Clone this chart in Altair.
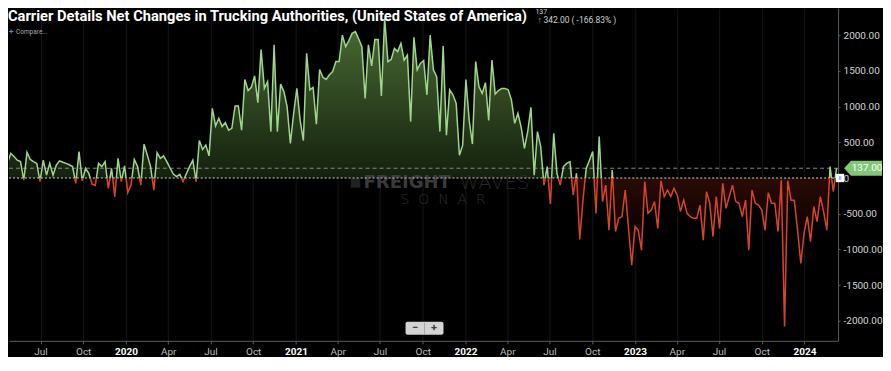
import altair as alt
import pandas as pd

# ---- data (weekly net changes) ----
start_date = "2019-04-07"
values_2019_2020 = [290, 250, 205, 345, 300, 250, 230, -30, 360, 260, 230, 205, -50, 250, 40, 205,
                    40, 180, 240, 220, 205, 185, 160, -75, 370, -40, 135, 65, -85, -105, 205, 160,
                    230, -145, 135, -260, 275, -50, 170, -205, -100, 260, 160, -100, 475, 320, 160,
                    -170, 355, 275, 310, 230, 140, 55, 20, 50, -50, 60, 160, 250, -50, 525, 400, 460, 310]
values_2020_2021 = [975, 730, 835, 720, 775, 670, 695, 1010, 1010, 670, 1380, 1225, 1270, 1430, 1055,
                    1800, 1255, 1350, 650, 1865, 650, 1315, 1210, 1000, 485, 900, 1255, 810, 525, 1745,
                    1235, 1270, 755, 1520, 1410, 1380, 1445, 1490, 1630, 1630, 2000, 1840, 1925, 2025,
                    2050, 1950, 1840, 1115, 1865, 1570, 1940, 1940, 1150, 2235, 1630, 1660, 1815, 1770,
                    1885, 1650, 1720, 790, 1970]
values_2021_2022 = [1515, 1605, 1645, 1165, 2000, 1515, 1420, 650, 1850, 600, 1235, 1165, 1045, 320, 460,
                    1380, 810, 475, 1630, 1280, 1185, 1335, 805, 1650, 1175, 1225, 1255, 1255, 1235, 1095,
                    765, 905, 710, 415, 650, 990, 40, 650, 440, -100, 160, -365, 625, 65, -100, 160, 205,
                    230, -240, 65, -860, -310, 135, 250, 370, -495, 580]
values_2022_2024 = [-330, -100, -730, 110, -750, -565, -540, -170, -700, -1220, -680, -730, -1010, -50,
                    -495, -450, -330, -705, -40, -260, -170, -260, -145, -240, -470, -310, -495, -540,
                    -565, -565, -380, -870, -190, -355, -820, -260, -705, -75, -425, -260, -100, -330,
                    -355, -540, -310, -1010, -170, -355, -380, -450, -730, -205, -355, -355, -750, -30,
                    -2080, -40, -310, -310, -730, -1195, -775, -540, -890, -400, -610, -260, -470, -730,
                    160, -190, 137]
y_ticks = [-2000, -1500, -1000, -500, 0, 500, 1000, 1500, 2000]
last_value = 137

values = values_2019_2020 + values_2020_2021 + values_2021_2022 + values_2022_2024
dates = pd.date_range(start_date, periods=len(values), freq="7D")
df = pd.DataFrame({"date": dates, "value": values})

W, H = 830, 333
GREEN = "#9fd68c"
RED = "#d4452a"
vmax, vmin = max(values), min(values)
f = vmax / (vmax - vmin)

line_grad = alt.Gradient(gradient="linear", x1=0, x2=0, y1=0, y2=1, stops=[
    alt.GradientStop(color=GREEN, offset=0), alt.GradientStop(color=GREEN, offset=f),
    alt.GradientStop(color=RED, offset=f), alt.GradientStop(color=RED, offset=1)])
fill_grad = alt.Gradient(gradient="linear", x1=0, x2=0, y1=0, y2=1, stops=[
    alt.GradientStop(color="#4a6c35", offset=0), alt.GradientStop(color="#14200d", offset=f),
    alt.GradientStop(color="#2a0b05", offset=f), alt.GradientStop(color="#140401", offset=f + 0.13),
    alt.GradientStop(color="#000000", offset=1)])

x_scale = alt.Scale(domain=[alt.DateTime(year=2019, month=4, date=24, hours=5),
                            alt.DateTime(year=2024, month=3, date=13, hours=5)])
y_scale = alt.Scale(domain=[-2280, 2378], nice=False, zero=False)

x_enc = alt.X("date:T", scale=x_scale, axis=alt.Axis(
    title=None, tickCount={"interval": "month", "step": 3},
    labelExpr="month(datum.value) == 0 ? timeFormat(datum.value, '%Y') : timeFormat(datum.value, '%b')",
    grid=True, gridColor="#161616", domainColor="#5c5c5c", tickColor="#5c5c5c", tickSize=3,
    labelPadding=3, labelFontSize=10, labelFont="Roboto",
    labelColor={"condition": {"test": "month(datum.value) == 0", "value": "#ffffff"}, "value": "#bdbdbd"},
    labelFontWeight={"condition": {"test": "month(datum.value) == 0", "value": "bold"}, "value": "normal"}))
y_enc = alt.Y("value:Q", scale=y_scale, axis=alt.Axis(
    orient="right", title=None, values=y_ticks, grid=False,
    labelExpr="datum.value == 0 ? '0' : (datum.value < 0 ? '-' : '') + format(abs(datum.value), '.2f')",
    domainColor="#5c5c5c", tickColor="#5c5c5c", tickSize=2, labelPadding=3,
    labelFontSize=10, labelFont="Roboto", labelColor="#d6d6d6"))

base = alt.Chart(df)
area = base.mark_area(fill=fill_grad, clip=True).encode(x=x_enc, y=y_enc, y2=alt.datum(0))
line = base.mark_line(stroke=line_grad, strokeWidth=1.5, clip=True).encode(x="date:T", y="value:Q")

one = pd.DataFrame({"k": [0]})
def txt(text, x, y, size, color, weight="normal", font="Roboto", align="left", baseline="middle"):
    return alt.Chart(one).mark_text(text=text, fontSize=size, color=color, fontWeight=weight,
                                    font=font, align=align, baseline=baseline).encode(
        x=alt.value(x), y=alt.value(y))

watermark = [
    alt.Chart(one).mark_point(shape="square", filled=True, color="#2e2e2e", size=90).encode(
        x=alt.value(347), y=alt.value(175)),
    txt("FREIGHT", 355, 175, 18, "#3a3a3a", weight="bold", font="DejaVu Sans"),
    txt("WAVES", 451, 175, 20, "#262626", weight=200, font="DejaVu Sans"),
    txt("S\u2007O\u2007N\u2007A\u2007R", 392, 192, 14, "#303030", weight=200, font="DejaVu Sans"),
]

zero_rule = alt.Chart(one).mark_rule(color="#d0d0d0", strokeDash=[2, 2], strokeWidth=1).encode(y=alt.datum(0))
last_rule = alt.Chart(one).mark_rule(color="#8a8a8a", strokeDash=[4, 3], strokeWidth=1).encode(y=alt.datum(last_value))

texts = [
    txt("Carrier Details Net Changes in Trucking Authorities, (United States of America)", -1, 9, 14.7,
        "#ffffff", weight="bold"),
    txt("137", 527, 0, 7, "#cfcfcf", baseline="top"),
    txt("↑", 529, 12, 9, "#4cc36b", weight="bold"),
    txt("342.00 ( -166.83% )", 535, 12, 8.5, "#cfcfcf"),
    txt("+", 0, 24, 8, "#4a8fe0", weight="bold"),
    txt("Compare...", 7, 24, 6.5, "#a8a8a8"),
]

badge_path = "M -1 0 L -0.63 -0.395 L 1 -0.395 L 1 0.395 L -0.63 0.395 Z"
badge = alt.Chart(one).mark_point(shape=badge_path, filled=True, color="#82c776", size=1444, opacity=1).encode(
    x=alt.value(855), y=alt.datum(last_value))
badge_txt = alt.Chart(one).mark_text(text="137.00", fontSize=10, color="#ffffff", font="Roboto",
                                     align="center", baseline="middle").encode(
    x=alt.value(859), y=alt.datum(last_value))
icon = alt.Chart(one).mark_point(shape="square", filled=True, color="#ffffff", size=70, opacity=1).encode(
    x=alt.value(832), y=alt.datum(0))
icon_txt = alt.Chart(one).mark_text(text="ll", fontSize=6, color="#3b5bdb", font="Roboto",
                                    align="center", baseline="middle").encode(
    x=alt.value(832), y=alt.datum(0))

zoom_box = alt.Chart(one).mark_rect(color="#d4d4d4", cornerRadius=2).encode(
    x=alt.value(397), x2=alt.value(435), y=alt.value(314), y2=alt.value(327))
zoom_sep = alt.Chart(one).mark_rule(color="#a8a8a8").encode(
    x=alt.value(416), y=alt.value(315), y2=alt.value(326))
zoom_txt = [txt("−", 406.5, 320.5, 11, "#404040", weight="bold", align="center"),
            txt("+", 425.5, 320.5, 11, "#404040", weight="bold", align="center")]

chart = alt.layer(area, *watermark, zero_rule, last_rule, line, *texts, icon, icon_txt,
                  badge, badge_txt, zoom_box, zoom_sep, *zoom_txt).properties(
    width=W, height=H, background="#000000", padding=0
).configure_view(stroke=None)

chart.save("out.html", embed_options={"renderer": "svg", "actions": False})
